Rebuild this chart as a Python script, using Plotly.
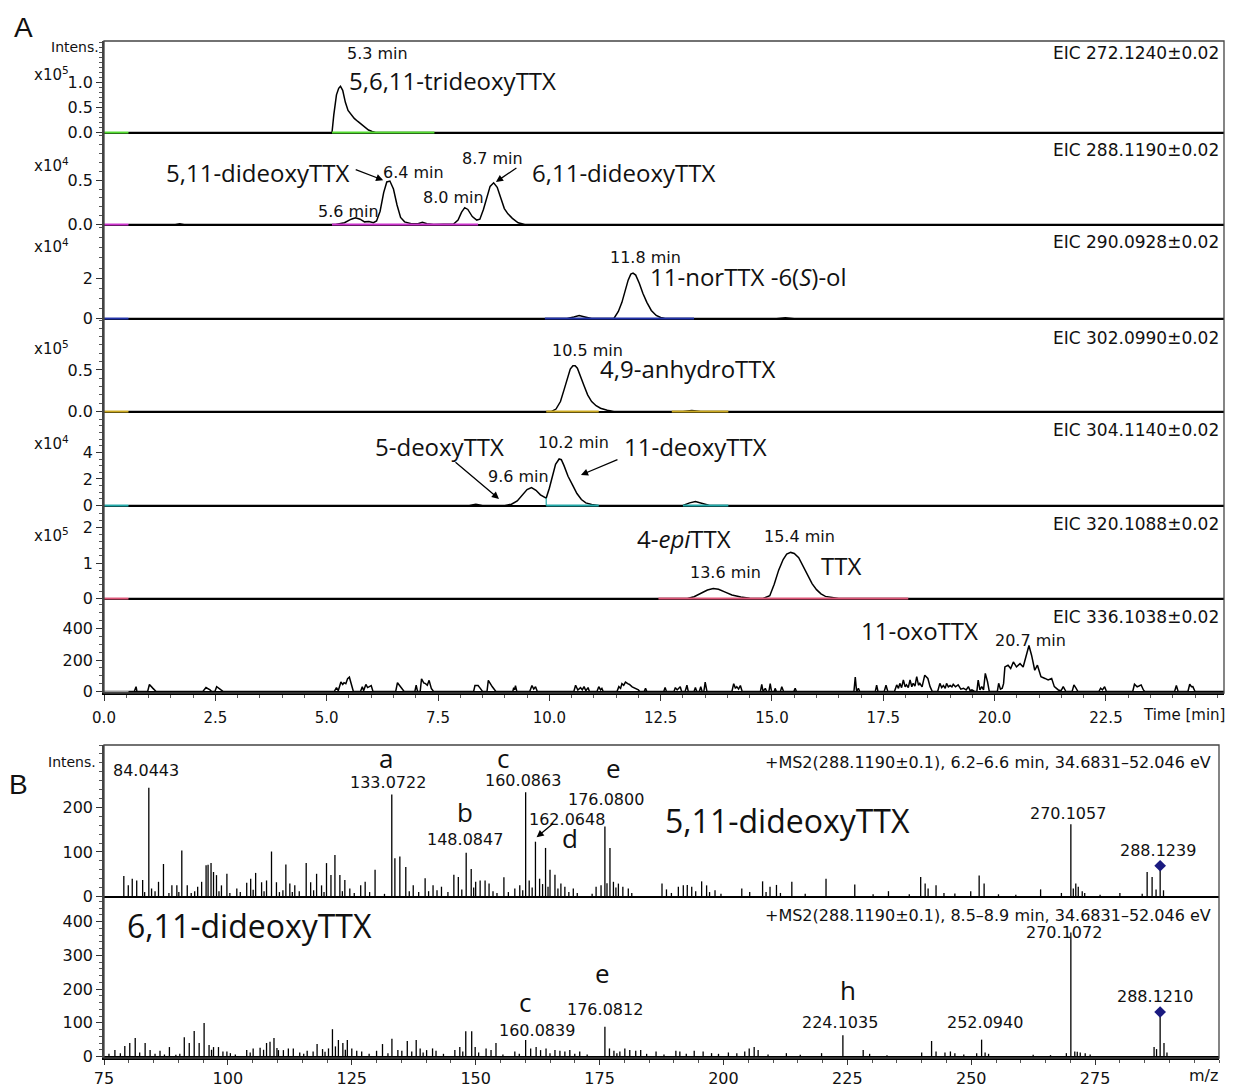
import plotly.graph_objects as go

W, H = 1234, 1087          # browser window
OFF = 8                    # page body margin that offsets the figure
FW, FH = W - OFF, H - OFF  # figure size
NUM = "DejaVu Sans"
NAME = "Open Sans"
LET = "Liberation Sans"

# ---------------- Panel A data: EIC chromatograms (time [min], intensity in axis units) ----------------
EIC_LABELS = ["EIC 272.1240±0.02", "EIC 288.1190±0.02", "EIC 290.0928±0.02",
              "EIC 302.0990±0.02", "EIC 304.1140±0.02", "EIC 320.1088±0.02",
              "EIC 336.1038±0.02"]
SCALE_LABELS = ["x10<sup>5</sup>", "x10<sup>4</sup>", "x10<sup>4</sup>",
                "x10<sup>5</sup>", "x10<sup>4</sup>", "x10<sup>5</sup>", ""]

EIC1 = [(0.55, 0), (5.12, 0), (5.16, 0.35), (5.22, 0.75), (5.27, 0.88), (5.31, 0.92), (5.36, 0.84),
        (5.42, 0.6), (5.48, 0.44), (5.55, 0.35), (5.62, 0.28), (5.7, 0.22), (5.78, 0.16), (5.86, 0.1),
        (5.94, 0.05), (6.02, 0.02), (6.1, 0), (25.15, 0)]
EIC2 = [(0.55, 0), (1.6, 0), (1.7, 0.01), (1.8, 0), (5.2, 0), (5.4, 0.02), (5.55, 0.06), (5.65, 0.075),
        (5.75, 0.06), (5.85, 0.03), (5.95, 0.035), (6.05, 0.02), (6.12, 0.04), (6.2, 0.15), (6.28, 0.36),
        (6.35, 0.48), (6.42, 0.49), (6.5, 0.4), (6.58, 0.22), (6.66, 0.08), (6.75, 0.03), (6.9, 0.01),
        (7.05, 0.01), (7.15, 0.025), (7.25, 0.01), (7.4, 0), (7.85, 0.005), (7.95, 0.05), (8.03, 0.14),
        (8.1, 0.19), (8.17, 0.17), (8.27, 0.09), (8.37, 0.05), (8.44, 0.06), (8.52, 0.17), (8.6, 0.32),
        (8.67, 0.43), (8.75, 0.47), (8.83, 0.42), (8.91, 0.3), (8.99, 0.18), (9.07, 0.12), (9.17, 0.07),
        (9.3, 0.02), (9.45, 0), (25.15, 0)]
EIC3 = [(0.55, 0), (10.4, 0), (10.55, 0.08), (10.67, 0.15), (10.8, 0.08), (10.95, 0), (11.45, 0),
        (11.55, 0.35), (11.63, 0.8), (11.7, 1.35), (11.77, 1.9), (11.83, 2.2), (11.88, 2.25), (11.94, 2.15),
        (12.02, 1.75), (12.1, 1.25), (12.19, 0.8), (12.29, 0.4), (12.4, 0.15), (12.5, 0.05), (12.6, 0),
        (15.1, 0), (15.3, 0.04), (15.5, 0), (25.15, 0)]
EIC4 = [(0.55, 0), (10.05, 0), (10.15, 0.03), (10.25, 0.12), (10.33, 0.26), (10.4, 0.4), (10.47, 0.51),
        (10.53, 0.55), (10.58, 0.55), (10.63, 0.52), (10.7, 0.43), (10.78, 0.31), (10.86, 0.2),
        (10.95, 0.12), (11.05, 0.07), (11.15, 0.04), (11.3, 0.015), (11.45, 0), (13.0, 0), (13.2, 0.012),
        (13.4, 0), (25.15, 0)]
EIC5 = [(0.55, 0), (8.2, 0), (8.35, 0.1), (8.5, 0), (9.0, 0), (9.15, 0.1), (9.28, 0.35), (9.4, 0.85),
        (9.5, 1.2), (9.6, 1.35), (9.7, 1.15), (9.8, 0.8), (9.93, 0.56), (10.0, 1.3), (10.07, 2.3),
        (10.14, 3.1), (10.22, 3.5), (10.27, 3.45), (10.33, 3.0), (10.42, 2.2), (10.52, 1.55), (10.62, 0.9),
        (10.72, 0.45), (10.82, 0.2), (10.95, 0.08), (11.1, 0), (13.0, 0), (13.15, 0.2), (13.28, 0.3),
        (13.4, 0.2), (13.6, 0), (25.15, 0)]
EIC6 = [(0.55, 0), (13.1, 0), (13.25, 0.05), (13.4, 0.15), (13.55, 0.24), (13.68, 0.28), (13.8, 0.26),
        (13.95, 0.18), (14.1, 0.1), (14.3, 0.04), (14.5, 0.01), (14.8, 0), (14.95, 0.08), (15.05, 0.4),
        (15.15, 0.8), (15.25, 1.1), (15.33, 1.25), (15.42, 1.3), (15.5, 1.27), (15.6, 1.15), (15.7, 0.92),
        (15.8, 0.65), (15.9, 0.42), (16.0, 0.25), (16.1, 0.13), (16.2, 0.06), (16.35, 0.02), (16.5, 0),
        (25.15, 0)]
EIC7 = [(0.55, 0), (0.68, 0), (0.72, 31), (0.74, 0), (0.98, 0), (1.02, 45), (1.1, 20), (1.17, 0),
        (2.22, 0), (2.29, 25), (2.38, 10), (2.42, 0), (2.49, 0), (2.53, 31), (2.62, 12), (2.68, 0),
        (5.17, 0), (5.22, 25), (5.26, 5), (5.32, 60), (5.36, 45), (5.39, 56), (5.43, 50), (5.47, 81),
        (5.51, 91), (5.56, 40), (5.6, 0), (5.76, 0), (5.8, 31), (5.83, 5), (5.88, 45), (5.92, 25),
        (5.95, 31), (6.0, 38), (6.04, 0), (6.55, 0), (6.59, 56), (6.67, 25), (6.74, 0), (6.98, 0),
        (7.01, 40), (7.04, 0), (7.1, 0), (7.13, 81), (7.18, 55), (7.22, 50), (7.26, 40), (7.3, 71),
        (7.35, 20), (7.4, 0), (8.3, 0), (8.33, 38), (8.4, 38), (8.45, 20), (8.5, 0), (8.6, 0), (8.63, 71),
        (8.72, 30), (8.8, 0), (9.18, 0), (9.2, 25), (9.22, 10), (9.24, 38), (9.27, 0), (9.56, 0),
        (9.61, 38), (9.65, 15), (9.69, 31), (9.73, 0), (10.55, 0), (10.59, 40), (10.64, 10), (10.7, 25),
        (10.74, 10), (10.78, 31), (10.82, 5), (10.87, 25), (10.9, 0), (11.07, 0), (11.11, 31),
        (11.15, 10), (11.18, 20), (11.21, 0), (11.52, 0), (11.56, 31), (11.6, 20), (11.63, 50),
        (11.67, 40), (11.71, 60), (11.76, 50), (11.8, 45), (11.86, 30), (11.9, 25), (11.95, 15),
        (12.0, 10), (12.03, 0), (12.13, 0), (12.16, 20), (12.19, 0), (12.57, 0), (12.6, 25), (12.63, 0),
        (12.8, 0), (12.83, 25), (12.87, 10), (12.94, 31), (12.97, 0), (13.05, 0), (13.09, 40),
        (13.12, 0), (13.25, 0), (13.28, 25), (13.31, 0), (13.37, 0), (13.4, 31), (13.43, 0), (13.47, 0),
        (13.5, 60), (13.54, 0), (14.1, 0), (14.14, 50), (14.18, 20), (14.21, 31), (14.25, 15),
        (14.29, 38), (14.33, 0), (14.74, 0), (14.77, 45), (14.8, 0), (14.85, 20), (14.88, 0), (14.93, 0),
        (14.96, 50), (14.99, 0), (15.05, 0), (15.07, 20), (15.1, 0), (15.19, 0), (15.22, 31), (15.26, 0),
        (15.49, 0), (15.52, 20), (15.55, 0), (16.84, 0), (16.87, 91), (16.9, 0), (16.94, 20), (16.97, 0),
        (17.32, 0), (17.35, 40), (17.38, 0), (17.52, 0), (17.56, 40), (17.6, 0), (17.75, 0), (17.8, 42),
        (17.84, 20), (17.87, 52), (17.91, 25), (17.95, 73), (17.99, 30), (18.02, 42), (18.06, 25),
        (18.1, 73), (18.14, 30), (18.17, 52), (18.21, 35), (18.25, 94), (18.29, 40), (18.32, 52),
        (18.37, 30), (18.43, 104), (18.5, 83), (18.55, 31), (18.6, 0), (18.72, 0), (18.77, 52),
        (18.81, 25), (18.85, 38), (18.89, 20), (18.92, 52), (18.96, 30), (19.0, 38), (19.04, 30),
        (19.07, 46), (19.12, 30), (19.18, 42), (19.24, 15), (19.3, 21), (19.36, 10), (19.41, 31),
        (19.45, 5), (19.49, 10), (19.55, 0), (19.6, 0), (19.63, 73), (19.67, 10), (19.71, 31),
        (19.75, 10), (19.79, 115), (19.84, 62), (19.88, 0), (20.06, 0), (20.09, 52), (20.13, 15),
        (20.17, 21), (20.2, 50), (20.23, 156), (20.3, 167), (20.36, 146), (20.42, 188), (20.49, 156),
        (20.57, 177), (20.64, 156), (20.69, 208), (20.77, 292), (20.83, 229), (20.9, 135), (20.96, 167),
        (21.04, 94), (21.13, 83), (21.2, 73), (21.28, 83), (21.34, 31), (21.43, 10), (21.49, 5),
        (21.54, 31), (21.6, 0), (21.74, 0), (21.78, 42), (21.83, 20), (21.87, 0), (22.34, 0), (22.38, 21),
        (22.42, 10), (22.47, 31), (22.51, 0), (23.1, 0), (23.14, 46), (23.2, 30), (23.24, 35),
        (23.29, 42), (23.34, 10), (23.37, 0), (24.04, 0), (24.08, 38), (24.12, 0), (24.34, 0),
        (24.38, 46), (24.42, 30), (24.45, 31), (24.5, 0), (25.15, 0)]
EICS = [EIC1, EIC2, EIC3, EIC4, EIC5, EIC6, EIC7]

Y_MAX = [1.82, 1.02, 4.58, 1.1, 6.96, 2.58, 581]
Y_TICKS = [[0, 0.5, 1.0], [0, 0.5], [0, 2], [0, 0.5], [0, 2, 4], [0, 1, 2], [0, 200, 400]]
Y_TICKTEXT = [["0.0", "0.5", "1.0"], ["0.0", "0.5"], ["0", "2"], ["0.0", "0.5"], ["0", "2", "4"],
              ["0", "1", "2"], ["0", "200", "400"]]
Y_MINOR = [0.1, 0.1, 0.5, 0.1, 0.5, 0.2, 50]
X_TICKS_A = [0, 2.5, 5.0, 7.5, 10.0, 12.5, 15.0, 17.5, 20.0, 22.5]

# integration baselines per trace (colored segments at zero)
SEG_COLORS = ["#55dd33", "#cc33cc", "#2233aa", "#ccaa22", "#22aaaa", "#dd5577", "#999999"]
SEGMENTS = [[(0, 0.55), (5.12, 7.42)],
            [(0, 0.55), (5.12, 8.4)],
            [(0, 0.55), (9.9, 13.25)],
            [(0, 0.55), (9.93, 11.11), (12.75, 14.02)],
            [(0, 0.55), (9.93, 11.11), (13.0, 14.02)],
            [(0, 0.55), (12.45, 18.06)],
            [(0, 0.55)]]
SPLIT_T5 = 9.93

# ---------------- Panel B data: MS/MS spectra (m/z, intensity) ----------------
SPEC_TOP = [(79.0, 46), (79.9, 25), (80.7, 40), (81.6, 36), (82.8, 37), (84.0443, 244), (84.6, 18),
            (86.0, 33), (87.0, 73), (88.7, 25), (89.7, 25), (90.7, 103), (91.8, 25), (93.9, 22), (94.7, 33),
            (95.6, 70), (96.0, 71), (96.6, 75), (97.1, 55), (97.7, 48), (98.7, 25), (99.8, 51), (101.8, 18),
            (103.8, 31), (104.6, 40), (105.6, 53), (106.8, 32), (107.8, 36), (108.8, 101), (109.8, 32),
            (111.7, 72), (112.5, 29), (113.5, 25), (115.8, 75), (116.7, 32), (117.9, 51), (118.9, 25),
            (119.9, 75), (120.8, 48), (121.6, 93), (122.6, 48), (123.6, 37), (124.6, 18), (126.8, 25),
            (127.7, 33), (129.7, 60), (133.0722, 229), (133.7, 86), (134.7, 90), (135.9, 66), (137.4, 25),
            (139.8, 41), (141.4, 25), (143.1, 22), (145.6, 49), (146.5, 44), (148.0847, 98), (149.1, 62),
            (150.0, 33), (150.9, 36), (151.9, 36), (152.7, 29), (155.7, 43), (157.9, 18), (158.9, 25),
            (160.0863, 234), (160.8, 36), (162.0648, 123), (162.9, 40), (164.1, 109), (165.0, 60),
            (166.0, 49), (167.2, 29), (168.0, 22), (169.7, 18), (174.3, 22), (175.3, 25), (176.0800, 157),
            (177.1, 109), (177.8, 33), (178.8, 29), (179.7, 22), (180.8, 18), (187.6, 29), (188.5, 16),
            (190.9, 22), (191.9, 25), (192.7, 26), (193.6, 22), (195.6, 34), (196.6, 25), (198.3, 14),
            (203.7, 18), (205.3, 10), (207.9, 34), (209.4, 22), (210.7, 26), (213.8, 33), (220.7, 40),
            (226.5, 27), (233.3, 12), (239.8, 44), (240.7, 29), (241.3, 18), (242.9, 25), (246.7, 7),
            (249.9, 12), (251.6, 47), (252.6, 29), (264.0, 16), (268.2, 8), (270.1057, 162), (271.1, 29),
            (271.6, 22), (272.4, 12), (280.0, 8), (285.5, 55), (286.5, 44), (288.1239, 69), (288.8, 14),
            (83.2, 10), (85.3, 12), (88.1, 8), (90.1, 10), (92.6, 8), (93.3, 12), (98.2, 12), (100.4, 8),
            (102.5, 10), (105.1, 15), (107.3, 12), (110.4, 10), (111.1, 14), (113.0, 10), (114.4, 12),
            (117.3, 14), (119.4, 10), (123.1, 12), (125.5, 8), (128.6, 10), (131.6, 6), (136.6, 12),
            (138.5, 10), (140.5, 12), (142.2, 14), (144.4, 10), (147.2, 16), (149.6, 20), (153.5, 12),
            (154.3, 8), (156.6, 10), (159.5, 14), (161.4, 20), (163.5, 28), (164.6, 22), (166.6, 18),
            (168.8, 10), (170.5, 8), (173.5, 6), (176.5, 30), (178.3, 20), (181.5, 8), (189.5, 8),
            (194.4, 12), (197.2, 10), (199.5, 6), (208.6, 10), (211.5, 8), (216.5, 6), (230.2, 5),
            (237.5, 5), (244.5, 8), (255.5, 5), (259.0, 4), (270.6, 18), (272.9, 8), (276.0, 4),
            (284.5, 6), (287.3, 16)]
SPEC_BOT = [(77.2, 19), (79.2, 31), (80.2, 40), (81.3, 55), (83.3, 40), (84.3, 19), (86.3, 17), (88.2, 28),
            (91.2, 57), (92.2, 40), (93.2, 76), (94.2, 40), (95.2, 99), (96.2, 34), (97.1, 28), (98.1, 28),
            (99.0, 15), (99.8, 15), (103.8, 19), (105.1, 24), (106.5, 26), (107.8, 40), (108.5, 44),
            (109.3, 55), (110.2, 19), (111.2, 19), (112.2, 24), (113.2, 24), (116.0, 17), (117.2, 15),
            (118.0, 37), (119.1, 22), (120.3, 24), (121.1, 81), (122.3, 49), (123.2, 40), (124.1, 49),
            (125.0, 24), (126.0, 17), (127.0, 15), (130.0, 17), (131.2, 37), (133.1, 53), (134.3, 19),
            (135.1, 17), (136.2, 46), (138.0, 49), (138.8, 24), (140.1, 19), (141.3, 24), (142.0, 17),
            (145.8, 19), (146.8, 28), (148.0, 75), (149.2, 75), (149.9, 28), (152.1, 24), (153.1, 19),
            (154.1, 40), (157.9, 15), (160.0839, 49), (161.1, 24), (162.2, 28), (163.1, 19), (164.2, 24),
            (166.0, 19), (167.0, 17), (168.0, 15), (169.0, 19), (171.0, 15), (176.0812, 88), (177.0, 24),
            (177.9, 17), (179.1, 15), (180.1, 24), (181.1, 19), (182.3, 17), (183.3, 19), (186.4, 15),
            (190.4, 17), (191.2, 15), (194.1, 17), (195.9, 15), (197.6, 10), (201.0, 12), (202.7, 10),
            (204.3, 15), (205.2, 24), (206.2, 28), (207.0, 19), (212.7, 10), (219.8, 10), (224.1035, 63),
            (228.2, 19), (240.0, 12), (242.0, 46), (242.9, 15), (244.7, 12), (245.8, 15), (246.7, 10),
            (251.1, 10), (252.0940, 50), (252.8, 12), (269.2, 10), (270.1072, 368), (270.9, 15),
            (272.0, 12), (273.0, 10), (286.9, 28), (287.4, 22), (288.1210, 132), (288.9, 40),
            (76.0, 8), (78.3, 10), (82.2, 12), (85.3, 8), (87.2, 6), (89.5, 5), (90.3, 8), (96.7, 20),
            (100.5, 10), (101.5, 6), (104.5, 12), (107.2, 20), (109.9, 25), (114.5, 12), (115.3, 8),
            (119.6, 14), (121.7, 30), (123.7, 20), (128.5, 8), (132.3, 10), (137.1, 15), (139.4, 12),
            (143.5, 8), (147.4, 15), (150.6, 12), (155.5, 6), (158.8, 8), (165.0, 10), (170.0, 8),
            (172.5, 6), (178.5, 10), (184.5, 8), (188.0, 6), (192.5, 8), (199.0, 8), (209.0, 6),
            (215.5, 5), (229.5, 8), (233.0, 4), (248.5, 6), (253.5, 8), (262.5, 5), (266.0, 4),
            (271.4, 14), (274.0, 6), (289.5, 12)]
PREC_TOP = 288.1239
PREC_BOT = 288.1210
B_YMAX = [340, 470]
B_YTICKS = [[0, 100, 200], [0, 100, 200, 300, 400]]
B_XTICKS = [75, 100, 125, 150, 175, 200, 225, 250, 275]
HEADERS = ["+MS2(288.1190±0.1), 6.2–6.6 min, 34.6831–52.046 eV",
           "+MS2(288.1190±0.1), 8.5–8.9 min, 34.6831–52.046 eV"]

# ---------------- layout geometry (window pixels) ----------------
A_X0, A_X1 = 104, 1224
A_EDGES = [41, 134, 226, 320, 413, 507, 600, 693]
B_X0, B_X1 = 104, 1219
B_EDGES = [745, 898, 1058]


def px(x):
    return (x - OFF) / FW


def py(y):
    return 1 - (y - OFF) / FH


def axname(kind, n):
    return kind + ("" if n == 1 else str(n))


fig = go.Figure()
layout = dict(width=FW, height=FH, margin=dict(l=0, r=0, t=0, b=0, autoexpand=False), paper_bgcolor="white",
              plot_bgcolor="white", showlegend=False)

tick_common = dict(ticks="outside", ticklen=6, tickwidth=1.2, tickcolor="#333", showgrid=False,
                   showline=True, linecolor="#444", linewidth=1.5, automargin=False)

# Panel A axes & traces
for i in range(7):
    n = i + 1
    top, bot = A_EDGES[i], A_EDGES[i + 1]
    delta = Y_MAX[i] * 1.5 / (bot - top)
    layout[axname("yaxis", n)] = dict(
        domain=[py(bot), py(top)], range=[-delta, Y_MAX[i]], anchor=axname("x", n),
        tickmode="array", tickvals=Y_TICKS[i], ticktext=Y_TICKTEXT[i],
        minor=dict(ticks="outside", ticklen=3, tickcolor="#555", tickmode="linear", tick0=0, dtick=Y_MINOR[i]),
        zeroline=True, zerolinecolor="black", zerolinewidth=2.2,
        tickfont=dict(family=NUM, size=16, color="#111"), **tick_common)
    xa = dict(domain=[px(A_X0), px(A_X1)], range=[0, 25.15], anchor=axname("y", n), showgrid=False,
              zeroline=False, automargin=False)
    if n < 7:
        xa.update(matches="x7", showticklabels=False, ticks="", showline=False)
    else:
        xa.update(tickmode="array", tickvals=X_TICKS_A, ticktext=[f"{v:.1f}" for v in X_TICKS_A],
                  ticks="outside", ticklen=6, tickcolor="#333", showline=True, linecolor="black", linewidth=1.5,
                  minor=dict(ticks="outside", ticklen=3, tickcolor="#555", tickmode="linear", tick0=0, dtick=0.5),
                  tickfont=dict(family=NUM, size=15, color="#111"), ticklabelstandoff=4)
    layout[axname("xaxis", n)] = xa

    t = [p[0] for p in EICS[i]]
    v = [p[1] for p in EICS[i]]
    fig.add_trace(go.Scatter(x=t, y=v, mode="lines", line=dict(color="black", width=1.5),
                             xaxis=axname("x", n), yaxis=axname("y", n), hoverinfo="skip"))
    for (a, b) in SEGMENTS[i]:
        fig.add_trace(go.Scatter(x=[a, b], y=[0, 0], mode="lines", line=dict(color=SEG_COLORS[i], width=2),
                                 xaxis=axname("x", n), yaxis=axname("y", n), hoverinfo="skip"))
    if n == 5:
        split_v = dict(EIC5)[SPLIT_T5]
        fig.add_trace(go.Scatter(x=[SPLIT_T5, SPLIT_T5], y=[0, split_v], mode="lines",
                                 line=dict(color=SEG_COLORS[i], width=1.2),
                                 xaxis="x5", yaxis="y5", hoverinfo="skip"))

# Panel B axes & traces
SPECS = [SPEC_TOP, SPEC_BOT]
PRECS = [PREC_TOP, PREC_BOT]
for j in range(2):
    n = 8 + j
    top, bot = B_EDGES[j], B_EDGES[j + 1]
    delta = B_YMAX[j] * 1.5 / (bot - top)
    layout[axname("yaxis", n)] = dict(
        domain=[py(bot), py(top)], range=[-delta, B_YMAX[j]], anchor=axname("x", n),
        tickmode="array", tickvals=B_YTICKS[j], ticktext=[str(v) for v in B_YTICKS[j]],
        minor=dict(ticks="outside", ticklen=3, tickcolor="#555", tickmode="linear", tick0=0, dtick=20),
        zeroline=True, zerolinecolor="black", zerolinewidth=2.2,
        tickfont=dict(family=NUM, size=16, color="#111"), **tick_common)
    xa = dict(domain=[px(B_X0), px(B_X1)], range=[75, 300], anchor=axname("y", n), showgrid=False,
              zeroline=False, automargin=False)
    if j == 0:
        xa.update(matches="x9", showticklabels=False, ticks="", showline=False)
    else:
        xa.update(tickmode="array", tickvals=B_XTICKS, ticktext=[str(v) for v in B_XTICKS],
                  ticks="outside", ticklen=5, tickcolor="#333", showline=True, linecolor="black", linewidth=1.5,
                  minor=dict(ticks="outside", ticklen=3, tickcolor="#555", tickmode="linear", tick0=75, dtick=5),
                  tickfont=dict(family=NUM, size=16, color="#111"), ticklabelstandoff=0)
    layout[axname("xaxis", n)] = xa

    xs, ys = [], []
    for (m, h) in SPECS[j]:
        xs += [m, m, None]
        ys += [0, h, None]
    fig.add_trace(go.Scatter(x=xs, y=ys, mode="lines", line=dict(color="black", width=1.3),
                             xaxis=axname("x", n), yaxis=axname("y", n), hoverinfo="skip"))
    prec_h = dict(SPECS[j])[PRECS[j]]
    fig.add_trace(go.Scatter(x=[PRECS[j]], y=[prec_h], mode="markers",
                             marker=dict(symbol="diamond", size=9, color="#1a1a80"), cliponaxis=False,
                             xaxis=axname("x", n), yaxis=axname("y", n), hoverinfo="skip"))


# ---------------- annotations ----------------
def pa(text, x, y, size, family, xanchor="center", color="#111"):
    return dict(text=text, x=px(x), y=py(y), xref="paper", yref="paper", showarrow=False,
                xanchor=xanchor, yanchor="middle", font=dict(size=size, family=family, color=color))


anns = []
anns.append(pa("A", 23, 28, 28, LET))
anns.append(pa("B", 19, 784, 28, LET))
anns.append(pa("Intens.", 75, 47, 14, NUM))
anns.append(pa("Intens.", 72, 762, 14, NUM))

for lab, y in zip(SCALE_LABELS, [74, 165, 246, 348, 443, 535, 0]):
    if lab:
        anns.append(pa(lab, 52, y, 15, NUM))
for lab, y in zip(EIC_LABELS, [53, 150, 242, 338, 430, 524, 617]):
    anns.append(pa(lab, 1221, y, 17, NUM, xanchor="right"))

for txt, x, y in [("5.3 min", 377, 53), ("6.4 min", 413, 172), ("5.6 min", 348, 212), ("8.0 min", 453, 198),
                  ("8.7 min", 492, 158), ("11.8 min", 645, 257), ("10.5 min", 587, 350), ("9.6 min", 518, 476),
                  ("10.2 min", 573, 443), ("15.4 min", 799, 537), ("13.6 min", 725, 572),
                  ("20.7 min", 1030, 640)]:
    anns.append(pa(txt, x, y, 16, NUM))

for txt, x, y in [("5,6,11-trideoxyTTX", 347, 80), ("6,11-dideoxyTTX", 530, 172),
                  ("11-norTTX -6(<i>S</i>)-ol", 648, 276), ("4,9-anhydroTTX", 598, 368),
                  ("5-deoxyTTX", 373, 447), ("11-deoxyTTX", 622, 447), ("4-<i>epi</i>TTX", 635, 538),
                  ("TTX", 819, 565), ("11-oxoTTX", 859, 630)]:
    anns.append(pa(txt, x, y, 24, NAME, xanchor="left"))
anns.append(pa("5,11-dideoxyTTX", 351, 172, 24, NAME, xanchor="right"))
anns.append(pa("Time [min]", 1184, 715, 15, NUM))

anns.append(pa(HEADERS[0], 1213, 762, 16, NUM, xanchor="right"))
anns.append(pa(HEADERS[1], 1213, 915, 16, NUM, xanchor="right"))
for txt, x, y in [("84.0443", 146, 770), ("133.0722", 388, 783), ("160.0863", 523, 780), ("176.0800", 606, 799),
                  ("148.0847", 465, 839), ("162.0648", 567, 819), ("270.1057", 1068, 813),
                  ("288.1239", 1158, 850), ("270.1072", 1064, 932), ("176.0812", 605, 1009),
                  ("160.0839", 537, 1030), ("224.1035", 840, 1022), ("252.0940", 985, 1022),
                  ("288.1210", 1155, 996)]:
    anns.append(pa(txt, x, y, 16, NUM))
for txt, x, y in [("a", 386, 758), ("c", 503, 758), ("e", 613, 768), ("b", 465, 812), ("d", 570, 838),
                  ("e", 602, 973), ("c", 525, 1002), ("h", 848, 990)]:
    anns.append(pa(txt, x, y, 26, NAME))
anns.append(pa("5,11-dideoxyTTX", 787, 820, 32, NAME))
anns.append(pa("6,11-dideoxyTTX", 249, 925, 32, NAME))
anns.append(pa("m/z", 1203, 1075, 16, NUM))


def arrow(xref, yref, x, y, ax, ay):
    return dict(text="", x=x, y=y, xref=xref, yref=yref, ax=ax, ay=ay, showarrow=True, arrowhead=2,
                arrowsize=1.1, arrowwidth=1.3, arrowcolor="black", standoff=0, startstandoff=0)


anns.append(arrow("x2", "y2", 6.27, 0.5, -29, -11))
anns.append(arrow("x2", "y2", 8.8, 0.48, 22, -15))
anns.append(arrow("x5", "y5", 8.87, 0.5, -45, -38))
anns.append(arrow("x5", "y5", 10.71, 2.3, 38, -16))
anns.append(arrow("x8", "y8", 162.3, 133, 18, -15))

layout["annotations"] = anns
layout["shapes"] = [
    dict(type="rect", xref="paper", yref="paper", x0=px(A_X0), x1=px(A_X1), y0=py(A_EDGES[-1]), y1=py(A_EDGES[0]),
         line=dict(color="#444", width=1.3), fillcolor="rgba(0,0,0,0)", layer="above"),
    dict(type="rect", xref="paper", yref="paper", x0=px(B_X0), x1=px(B_X1), y0=py(B_EDGES[-1]), y1=py(B_EDGES[0]),
         line=dict(color="#444", width=1.3), fillcolor="rgba(0,0,0,0)", layer="above"),
]

fig.update_layout(**layout)
fig.write_html("out.html")
